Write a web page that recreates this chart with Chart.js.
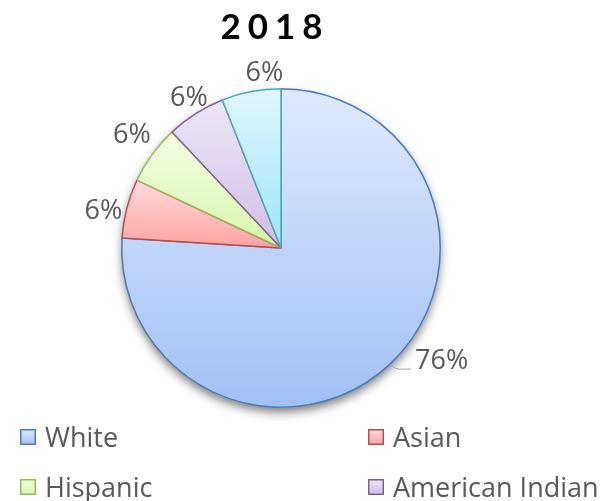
<!DOCTYPE html>
<html>
<head>
<meta charset="utf-8">
<script src="https://cdn.jsdelivr.net/npm/chart.js@4/dist/chart.umd.min.js"></script>
<style>
  html, body { margin: 0; padding: 0; background: #ffffff; }
  #wrap { width: 609px; height: 501px; position: relative; }
</style>
</head>
<body>
<div id="wrap"><canvas id="c" width="609" height="501"></canvas></div>
<script>
// ---- data ----
const chartTitle = '2018';
const categories = ['White', 'Asian', 'Hispanic', 'American Indian', 'Other'];
const shares = [76, 6, 6, 6, 6];

// ---- style ----
const edgeColors = ['#4a7ebb', '#be4b48', '#98b954', '#7d60a0', '#46aac5'];
const fillTop    = ['#e0eafd', '#ffdada', '#f4fde6', '#eee7f6', '#e0f7fd'];
const fillBottom = ['#a2c0f6', '#ffa3a3', '#d6f6aa', '#d0bde8', '#9ee5f7'];
const labelOffsets = [[38, -19], [-4, 6], [-4, -9], [4, 0], [17, -1]];
const textGrey = '#595959';
const fontFamily = '"Open Sans", "Liberation Sans", sans-serif';

// vertical gradient spanning the bounding box of one slice
function sliceGradient(context) {
  const chart = context.chart;
  const area = chart.chartArea;
  const i = context.dataIndex;
  if (!area) return fillTop[i];
  const cx = (area.left + area.right) / 2;
  const cy = (area.top + area.bottom) / 2;
  const r = Math.min(area.right - area.left, area.bottom - area.top) / 2;
  const total = shares.reduce((a, b) => a + b, 0);
  const before = shares.slice(0, i).reduce((a, b) => a + b, 0);
  const a0 = -Math.PI / 2 + 2 * Math.PI * before / total;
  const a1 = a0 + 2 * Math.PI * shares[i] / total;
  const ys = [cy, cy + r * Math.sin(a0), cy + r * Math.sin(a1)];
  for (let k = -2; k <= 2; k++) {
    const up = -Math.PI / 2 + 2 * k * Math.PI;
    const down = Math.PI / 2 + 2 * k * Math.PI;
    if (up > a0 && up < a1) ys.push(cy - r);
    if (down > a0 && down < a1) ys.push(cy + r);
  }
  const g = chart.ctx.createLinearGradient(0, Math.min(...ys), 0, Math.max(...ys));
  g.addColorStop(0, fillTop[i]);
  g.addColorStop(1, fillBottom[i]);
  return g;
}

// soft drop shadow under the pie
const pieShadow = {
  id: 'pieShadow',
  beforeDatasetsDraw(chart) {
    const arc = chart.getDatasetMeta(0).data[0];
    if (!arc) return;
    const ctx = chart.ctx;
    ctx.save();
    ctx.shadowColor = 'rgba(0,0,0,0.5)';
    ctx.shadowBlur = 10;
    ctx.shadowOffsetY = 5;
    ctx.beginPath();
    ctx.arc(arc.x, arc.y, arc.outerRadius, 0, Math.PI * 2);
    ctx.fillStyle = '#ffffff';
    ctx.fill();
    ctx.restore();
  }
};

// percentage labels outside each slice
const sliceLabels = {
  id: 'sliceLabels',
  afterDatasetsDraw(chart) {
    const ctx = chart.ctx;
    const meta = chart.getDatasetMeta(0);
    const size = 27;
    ctx.save();
    ctx.font = size + 'px ' + fontFamily;
    ctx.fillStyle = textGrey;
    ctx.textAlign = 'center';
    ctx.textBaseline = 'alphabetic';
    meta.data.forEach((arc, i) => {
      const p = arc.getProps(['x', 'y', 'startAngle', 'endAngle', 'outerRadius'], true);
      const mid = (p.startAngle + p.endAngle) / 2;
      const ux = Math.cos(mid), uy = Math.sin(mid);
      const tx = p.x + (p.outerRadius + 20) * ux + labelOffsets[i][0];
      const ty = p.y + (p.outerRadius + 20) * uy + labelOffsets[i][1];
      const text = shares[i] + '%';
      if (i === 0) {
        // leader line from the slice edge to its label
        const w = ctx.measureText(text).width;
        const x0 = p.x + p.outerRadius * ux, y0 = p.y + p.outerRadius * uy;
        const x1 = x0 + 7, y1 = y0 + 5;
        ctx.save();
        ctx.strokeStyle = '#a6a6a6';
        ctx.lineWidth = 1;
        ctx.beginPath();
        ctx.moveTo(x0, y0);
        ctx.quadraticCurveTo(x0 + 4, y1, x1 + 2, y1);
        ctx.lineTo(tx - w / 2 - 4, y1);
        ctx.stroke();
        ctx.restore();
      }
      ctx.fillText(text, tx, ty + size * 0.714 / 2);
    });
    ctx.restore();
  }
};

// two-column legend below the pie
const keyLegend = {
  id: 'keyLegend',
  afterDraw(chart) {
    const ctx = chart.ctx;
    const cols = [20, 368];
    const firstRow = 437, rowGap = 50, box = 16, size = 27;
    ctx.save();
    ctx.font = size + 'px ' + fontFamily;
    ctx.textBaseline = 'alphabetic';
    ctx.textAlign = 'left';
    chart.data.labels.forEach((label, i) => {
      const x = cols[i % 2];
      const cy = firstRow + Math.floor(i / 2) * rowGap;
      const g = ctx.createLinearGradient(0, cy - box / 2, 0, cy + box / 2);
      g.addColorStop(0, fillTop[i]);
      g.addColorStop(1, fillBottom[i]);
      ctx.fillStyle = g;
      ctx.fillRect(x, cy - box / 2, box, box);
      ctx.strokeStyle = edgeColors[i];
      ctx.lineWidth = 1.5;
      ctx.strokeRect(x + 0.75, cy - box / 2 + 0.75, box - 1.5, box - 1.5);
      ctx.fillStyle = textGrey;
      ctx.fillText(label, x + 25, cy + size * 0.714 / 2);
    });
    ctx.restore();
  }
};

// spaced-out bold heading
const heading = {
  id: 'heading',
  afterDraw(chart) {
    const ctx = chart.ctx;
    const spacing = 7;
    ctx.save();
    ctx.font = 'bold 35px Lato, "DejaVu Sans", sans-serif';
    ctx.fillStyle = '#000000';
    ctx.textBaseline = 'alphabetic';
    ctx.textAlign = 'left';
    if ('letterSpacing' in ctx) ctx.letterSpacing = spacing + 'px';
    const w = ctx.measureText(chartTitle).width - spacing;
    ctx.fillText(chartTitle, 271.5 - w / 2, 39);
    ctx.restore();
  }
};

new Chart(document.getElementById('c'), {
  type: 'pie',
  data: {
    labels: categories,
    datasets: [{
      data: shares,
      backgroundColor: sliceGradient,
      borderColor: edgeColors,
      borderWidth: 1.5
    }]
  },
  options: {
    responsive: false,
    animation: false,
    layout: { padding: { left: 121, right: 168, top: 88, bottom: 93 } },
    plugins: {
      legend: { display: false },
      title: { display: false },
      tooltip: { enabled: false }
    }
  },
  plugins: [pieShadow, sliceLabels, keyLegend, heading]
});
</script>
</body>
</html>
